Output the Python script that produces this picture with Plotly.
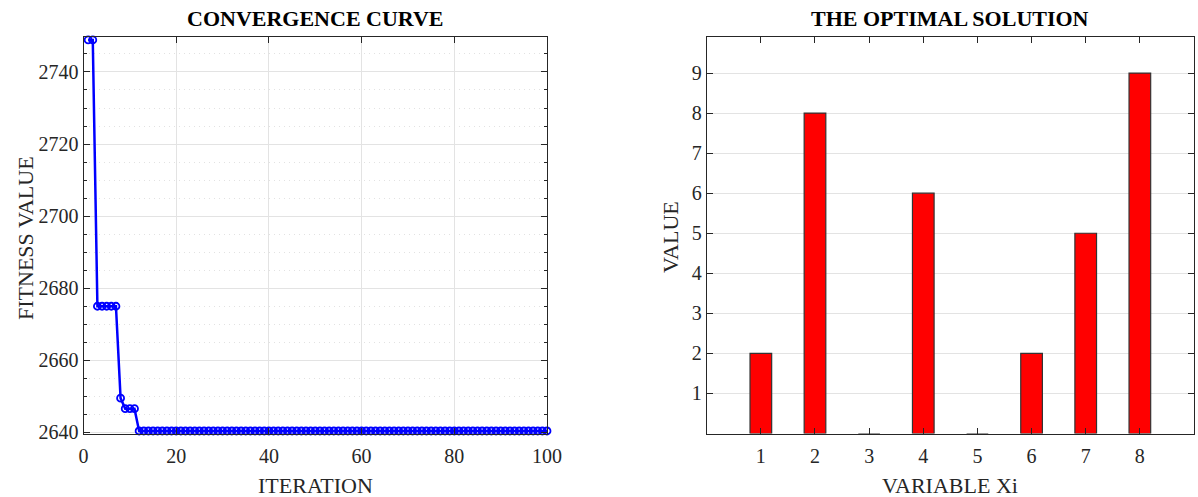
import plotly.graph_objects as go

# ---- data ----
iterations = list(range(1, 101))
fitness = ([2748.9] * 2 + [2675.0] * 5 + [2649.5] + [2646.6] * 3 + [2640.4] * 89)
variables = [1, 2, 3, 4, 5, 6, 7, 8]
values = [2, 8, 0, 6, 0, 2, 5, 9]

FONT = "Liberation Serif, Times New Roman, serif"
AX = "#262626"
GRID = "#e3e3e3"
W, H = 1198, 497

def px(x):
    return x / W

def py(y):
    return 1 - y / H

fig = go.Figure()
fig.add_trace(go.Scatter(
    x=iterations, y=fitness, mode="lines+markers",
    line=dict(color="#0000ff", width=2.5),
    marker=dict(symbol="circle-open", size=7, color="#0000ff", line=dict(width=1.8)),
    xaxis="x", yaxis="y", cliponaxis=False, showlegend=False))
fig.add_trace(go.Bar(
    x=variables, y=values, width=0.4,
    marker=dict(color="#ff0000", line=dict(color="#333333", width=1.2)),
    xaxis="x2", yaxis="y2", showlegend=False))

common = dict(showline=True, linecolor=AX, linewidth=1, mirror="ticks",
              ticks="inside", ticklen=6, tickcolor=AX, zeroline=False, automargin=False,
              tickfont=dict(family=FONT, size=20, color=AX))

def ann(text, x, y, size, angle=0, color=AX):
    return dict(text=text, x=px(x), y=py(y), xref="paper", yref="paper",
                xanchor="center", yanchor="middle", textangle=angle, showarrow=False,
                font=dict(family=FONT, size=size, color=color))

fig.update_layout(
    width=W, height=H,
    margin=dict(l=0, r=0, t=0, b=0, autoexpand=False),
    paper_bgcolor="white", plot_bgcolor="white",
    xaxis=dict(domain=[px(83.5), px(547)], range=[0, 100], dtick=20,
               showgrid=True, gridcolor=GRID, anchor="y", ticklabelstandoff=4, **common),
    yaxis=dict(domain=[py(433.5), py(37)], range=[2639.7, 2749.7], tick0=2640, dtick=20,
               showgrid=True, gridcolor=GRID, anchor="x",
               minor=dict(dtick=5, tick0=2640, ticks="inside", ticklen=3, tickcolor=AX,
                          showgrid=True, gridcolor="#e2e2e2", griddash="1px,4px"),
               **common),
    xaxis2=dict(domain=[px(706.7), px(1194)], range=[0, 9], tickvals=variables,
                showgrid=False, anchor="y2", ticklabelstandoff=4, **common),
    yaxis2=dict(domain=[py(433.5), py(37)], range=[0, 9.9], tickvals=[1, 2, 3, 4, 5, 6, 7, 8, 9],
                showgrid=True, gridcolor=GRID, anchor="x2", **common),
    annotations=[
        ann("<b>CONVERGENCE CURVE</b>", 315, 18, 22, color="black"),
        ann("<b>THE OPTIMAL SOLUTION</b>", 950, 18, 22, color="black"),
        ann("FITNESS VALUE", 25, 238, 22, angle=-90),
        ann("ITERATION", 315, 485, 22),
        ann("VALUE", 670, 237, 22, angle=-90),
        ann("VARIABLE Xi", 950, 485, 22),
    ],
)

fig.write_html("out.html", config={"displayModeBar": False},
               post_script="document.body.style.margin='0';document.body.style.overflow='hidden';")
